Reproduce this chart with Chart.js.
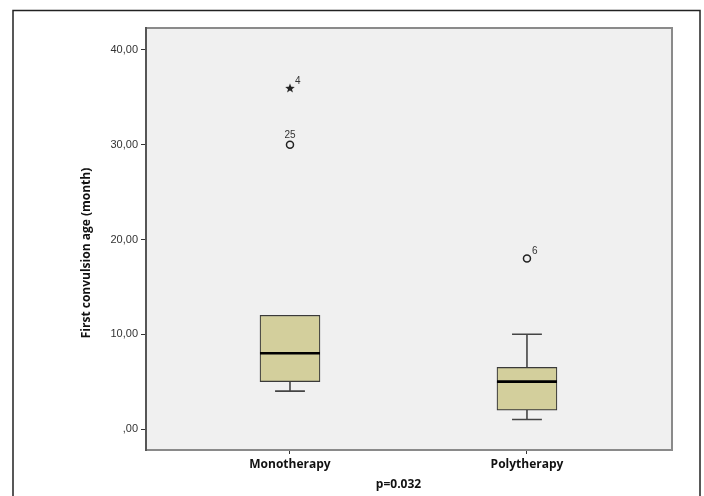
<!DOCTYPE html>
<html>
<head>
<meta charset="utf-8">
<script src="https://cdn.jsdelivr.net/npm/chart.js@4.4.1/dist/chart.umd.min.js"></script>
<style>
  html, body { margin: 0; padding: 0; background: #ffffff; }
  canvas { display: block; }
</style>
</head>
<body>
<canvas id="c" width="704" height="496"></canvas>
<script>
// ---------- data ----------
const categories   = ["Monotherapy", "Polytherapy"];
const whiskerLow   = [4, 1];
const q1           = [5, 2];
const median       = [8, 5];
const q3           = [12, 6.5];
const whiskerHigh  = [12, 10];
const outlierCat   = [0, 0, 1];
const outlierValue = [36, 30, 18];
const outlierCase  = ["4", "25", "6"];
const outlierKind  = ["extreme", "mild", "mild"];
const yTicks       = [0, 10, 20, 30, 40];
const yTickLabels  = [",00", "10,00", "20,00", "30,00", "40,00"];
const yAxisTitle   = "First convulsion age (month)";
const pValueText   = "p=0.032";

// ---------- geometry helpers (in category units) ----------
const BOX_HALF = 0.1266;
const CAP_HALF = 0.063;

const boxData = categories.map((c, i) => ({ x: i, y: [q1[i], q3[i]] }));

const medianData = [];
categories.forEach((c, i) => {
  medianData.push({ x: i - BOX_HALF, y: median[i] }, { x: i + BOX_HALF, y: median[i] }, { x: i, y: null });
});

const whiskerData = [];
categories.forEach((c, i) => {
  if (whiskerLow[i] < q1[i]) {
    whiskerData.push({ x: i, y: whiskerLow[i] }, { x: i, y: q1[i] }, { x: i, y: null });
    whiskerData.push({ x: i - CAP_HALF, y: whiskerLow[i] }, { x: i + CAP_HALF, y: whiskerLow[i] }, { x: i, y: null });
  }
  if (whiskerHigh[i] > q3[i]) {
    whiskerData.push({ x: i, y: q3[i] }, { x: i, y: whiskerHigh[i] }, { x: i, y: null });
    whiskerData.push({ x: i - CAP_HALF, y: whiskerHigh[i] }, { x: i + CAP_HALF, y: whiskerHigh[i] }, { x: i, y: null });
  }
});

const mildData = [], extremeData = [];
outlierValue.forEach((v, k) => {
  const p = { x: outlierCat[k], y: v, label: outlierCase[k] };
  (outlierKind[k] === "extreme" ? extremeData : mildData).push(p);
});

// star marker image
function makeStar(size) {
  const cv = document.createElement('canvas');
  cv.width = size; cv.height = size;
  const g = cv.getContext('2d');
  const cx = size / 2, cy = size / 2 + 0.5, R = size / 2, r = R * 0.42;
  g.beginPath();
  for (let j = 0; j < 10; j++) {
    const a = -Math.PI / 2 + j * Math.PI / 5;
    const rr = j % 2 === 0 ? R : r;
    const px = cx + rr * Math.cos(a), py = cy + rr * Math.sin(a);
    if (j === 0) g.moveTo(px, py); else g.lineTo(px, py);
  }
  g.closePath();
  g.fillStyle = '#222';
  g.fill();
  return cv;
}
const starImg = makeStar(10);

// ---------- plugin: panel, frame, labels ----------
const decor = {
  id: 'decor',
  beforeDraw(chart) {
    const { ctx, chartArea: a } = chart;
    ctx.save();
    ctx.fillStyle = '#f0f0f0';
    ctx.fillRect(a.left, a.top, a.right - a.left, a.bottom - a.top);
    ctx.restore();
  },
  afterDatasetsDraw(chart) {
    const { ctx, chartArea: a, scales } = chart;
    ctx.save();
    // panel border
    ctx.strokeStyle = '#8a8a8a';
    ctx.lineWidth = 2;
    ctx.strokeRect(a.left, a.top, a.right - a.left, a.bottom - a.top);
    ctx.strokeStyle = '#333';
    ctx.lineWidth = 1.2;
    ctx.beginPath();
    ctx.moveTo(a.left, a.top - 1); ctx.lineTo(a.left, a.bottom + 1);
    ctx.stroke();

    // outer frame
    ctx.strokeStyle = '#222';
    ctx.lineWidth = 1.5;
    ctx.strokeRect(13, 10.5, 687, 500);

    // outlier case labels
    ctx.fillStyle = '#333';
    ctx.font = '10px "Liberation Sans", Arial, sans-serif';
    outlierValue.forEach((v, k) => {
      const px = scales.x.getPixelForValue(outlierCat[k]);
      const py = scales.y.getPixelForValue(v);
      if (outlierKind[k] === 'extreme' || outlierCase[k].length === 1) {
        ctx.textAlign = 'left'; ctx.textBaseline = 'middle';
        ctx.fillText(outlierCase[k], px + 5, py - 7);
      } else {
        ctx.textAlign = 'center'; ctx.textBaseline = 'bottom';
        ctx.fillText(outlierCase[k], px, py - 4);
      }
    });

    // y axis title
    ctx.fillStyle = '#111';
    ctx.font = 'bold 12px "Open Sans", "DejaVu Sans", sans-serif';
    ctx.textAlign = 'center'; ctx.textBaseline = 'middle';
    ctx.save();
    ctx.translate(87, 253);
    ctx.rotate(-Math.PI / 2);
    ctx.fillText(yAxisTitle, 0, 0);
    ctx.restore();

    // x footnote
    ctx.fillText(pValueText, 398.5, 485);
    ctx.restore();
  }
};

new Chart(document.getElementById('c'), {
  type: 'bar',
  data: {
    datasets: [
      {
        type: 'bar',
        data: boxData,
        backgroundColor: '#d3cf9c',
        borderColor: '#3a3a3a',
        borderWidth: 1.2,
        borderSkipped: false,
        barThickness: 60,
        order: 3
      },
      {
        type: 'line',
        data: whiskerData,
        borderColor: '#444',
        borderWidth: 1.6,
        pointRadius: 0,
        spanGaps: false,
        order: 4
      },
      {
        type: 'line',
        data: medianData,
        borderColor: '#000',
        borderWidth: 2.6,
        pointRadius: 0,
        spanGaps: false,
        order: 1
      },
      {
        type: 'scatter',
        data: mildData,
        pointStyle: 'circle',
        pointRadius: 3.5,
        backgroundColor: 'rgba(0,0,0,0)',
        borderColor: '#222',
        borderWidth: 1.5,
        order: 0
      },
      {
        type: 'scatter',
        data: extremeData,
        pointStyle: starImg,
        pointRadius: 5,
        order: 0
      }
    ]
  },
  options: {
    responsive: false,
    animation: false,
    events: [],
    layout: { padding: { left: 0, top: 28, right: 32, bottom: 0 } },
    plugins: { legend: { display: false }, tooltip: { enabled: false } },
    scales: {
      x: {
        type: 'linear',
        min: -0.6076,
        max: 1.612,
        offset: false,
        afterFit(s) { s.height = 46; },
        afterBuildTicks(s) { s.ticks = categories.map((c, i) => ({ value: i })); },
        ticks: {
          callback: (v) => categories[v],
          color: '#111',
          font: { family: '"Open Sans", "DejaVu Sans", sans-serif', size: 12, weight: 'bold' },
          padding: 3,
          maxRotation: 0,
          autoSkip: false
        },
        grid: { display: true, drawOnChartArea: false, drawTicks: true, tickLength: 4, color: '#333', offset: false },
        border: { display: false }
      },
      y: {
        type: 'linear',
        min: -2.216,
        max: 42.32,
        afterFit(s) { s.width = 146; },
        afterBuildTicks(s) { s.ticks = yTicks.map(v => ({ value: v })); },
        ticks: {
          callback: (v) => yTickLabels[yTicks.indexOf(v)],
          color: '#333',
          font: { family: '"Liberation Sans", Arial, sans-serif', size: 11 },
          padding: 3
        },
        grid: { display: true, drawOnChartArea: false, drawTicks: true, tickLength: 5, color: '#333' },
        border: { display: false }
      }
    }
  },
  plugins: [decor]
});
</script>
</body>
</html>
